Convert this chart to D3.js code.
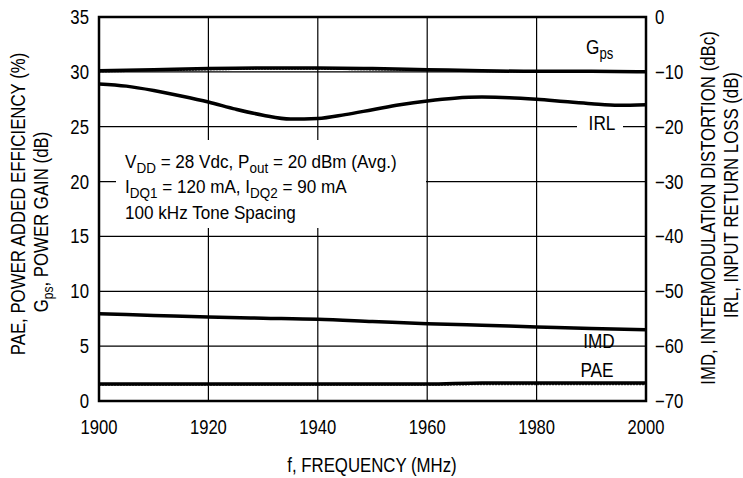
<!DOCTYPE html>
<html>
<head>
<meta charset="utf-8">
<script src="https://cdn.jsdelivr.net/npm/d3@7"></script>
<style>
  body { margin: 0; background: #fff; }
  text { font-family: "Liberation Sans", Arial, sans-serif; fill: #000; }
</style>
</head>
<body>
<script>
const width = 743;
const height = 478;
const margin = { left: 99, right: 97, top: 17, bottom: 77 };

// data
const freq = [1900, 1910, 1920, 1930, 1940, 1950, 1960, 1970, 1980, 1990, 2000];
const gps = [30.1, 30.2, 30.3, 30.35, 30.35, 30.3, 30.2, 30.1, 30.05, 30.05, 30.0];
const gpsAlt = [30.0, 30.1, 30.2, 30.25, 30.25, 30.2, 30.15, 30.05, 30.0, 30.0, 29.95];
const pae = [1.55, 1.55, 1.55, 1.55, 1.55, 1.55, 1.55, 1.65, 1.65, 1.65, 1.65];
const paeAlt = [1.45, 1.45, 1.45, 1.45, 1.45, 1.45, 1.45, 1.5, 1.5, 1.5, 1.5];
const irlFreq = [1900, 1905, 1910, 1915, 1920, 1925, 1930, 1935, 1940, 1945, 1950, 1955, 1960, 1965, 1970, 1975, 1980, 1985, 1990, 1995, 2000];
const irl = [-12.2, -12.6, -13.4, -14.4, -15.5, -16.8, -17.9, -18.6, -18.5, -17.8, -16.9, -16.0, -15.3, -14.8, -14.6, -14.7, -15.0, -15.4, -15.8, -16.1, -16.0];
const imd = [-54.1, -54.4, -54.7, -54.9, -55.1, -55.5, -55.9, -56.2, -56.5, -56.8, -57.0];

const xTicks = [1900, 1920, 1940, 1960, 1980, 2000];
const leftTicks = [0, 5, 10, 15, 20, 25, 30, 35];
const rightTicks = [0, -10, -20, -30, -40, -50, -60, -70];

const svg = d3.select("body")
  .append("svg")
  .attr("width", width)
  .attr("height", height);

const x = d3.scaleLinear()
  .domain([1900, 2000])
  .range([margin.left, width - margin.right]);

const yLeft = d3.scaleLinear()
  .domain([0, 35])
  .range([height - margin.bottom, margin.top]);

const yRight = d3.scaleLinear()
  .domain([-70, 0])
  .range([height - margin.bottom, margin.top]);

// narrow text: regular face squeezed horizontally
function label(parent, tx, ty, size, sx, anchor, rot) {
  return parent.append("text")
    .attr("transform", "translate(" + tx + "," + ty + ")" + (rot ? " rotate(-90)" : "") + " scale(" + sx + ",1)")
    .attr("text-anchor", anchor || "start")
    .style("font-size", size + "px");
}

// gridlines
svg.append("g")
  .selectAll("line")
  .data(leftTicks)
  .enter()
  .append("line")
  .attr("x1", margin.left)
  .attr("x2", width - margin.right)
  .attr("y1", d => yLeft(d))
  .attr("y2", d => yLeft(d))
  .attr("stroke", "#000")
  .attr("stroke-width", 1.2);

svg.append("g")
  .selectAll("line")
  .data(xTicks)
  .enter()
  .append("line")
  .attr("x1", d => x(d))
  .attr("x2", d => x(d))
  .attr("y1", margin.top)
  .attr("y2", height - margin.bottom)
  .attr("stroke", "#000")
  .attr("stroke-width", 1.2);

// white patches behind annotation and IRL label
svg.append("rect")
  .attr("x", 116).attr("y", 140)
  .attr("width", 310).attr("height", 88)
  .attr("fill", "#fff");
svg.append("rect")
  .attr("x", 577).attr("y", 115)
  .attr("width", 46).attr("height", 20)
  .attr("fill", "#fff");

// curves
const lineL = d3.line().x((d, i) => x(freq[i])).y(d => yLeft(d)).curve(d3.curveMonotoneX);
const lineR = d3.line().x((d, i) => x(freq[i])).y(d => yRight(d)).curve(d3.curveMonotoneX);
const lineIrl = d3.line().x((d, i) => x(irlFreq[i])).y(d => yRight(d)).curve(d3.curveMonotoneX);

[gpsAlt, paeAlt].forEach(s => {
  svg.append("path")
    .attr("d", lineL(s))
    .attr("fill", "none")
    .attr("stroke", "#444")
    .attr("stroke-width", 1.5)
    .attr("stroke-dasharray", "2,1");
});

[gps, pae].forEach(s => {
  svg.append("path")
    .attr("d", lineL(s))
    .attr("fill", "none")
    .attr("stroke", "#000")
    .attr("stroke-width", 3.5);
});

svg.append("path")
  .attr("d", lineIrl(irl))
  .attr("fill", "none")
  .attr("stroke", "#000")
  .attr("stroke-width", 3.5);

svg.append("path")
  .attr("d", lineR(imd))
  .attr("fill", "none")
  .attr("stroke", "#000")
  .attr("stroke-width", 3.5);

// frame
svg.append("rect")
  .attr("x", margin.left)
  .attr("y", margin.top)
  .attr("width", width - margin.left - margin.right)
  .attr("height", height - margin.top - margin.bottom)
  .attr("fill", "none")
  .attr("stroke", "#000")
  .attr("stroke-width", 2.5);

// tick labels
leftTicks.forEach(d => {
  label(svg, margin.left - 10, yLeft(d) + 7, 19.5, 0.86, "end").text(d);
});
rightTicks.forEach(d => {
  label(svg, width - margin.right + 9, yRight(d) + 7, 19.5, 0.86, "start")
    .text(d === 0 ? "0" : "\u2212" + Math.abs(d));
});
xTicks.forEach(d => {
  label(svg, x(d), 434, 20, 0.83, "middle").text(d);
});

// axis titles
label(svg, 372, 472, 21, 0.8, "middle").text("f, FREQUENCY (MHz)");

label(svg, 25, 204, 21, 0.8, "middle", true).text("PAE, POWER ADDED EFFICIENCY (%)");
const lt2 = label(svg, 48, 222, 21, 0.8, "middle", true);
lt2.append("tspan").text("G");
lt2.append("tspan").attr("dy", 5).style("font-size", "15px").text("ps");
lt2.append("tspan").attr("dy", -5).text(", POWER GAIN (dB)");

label(svg, 715, 208, 21, 0.8, "middle", true).text("IMD, INTERMODULATION DISTORTION (dBc)");
label(svg, 738, 195, 21, 0.8, "middle", true).text("IRL, INPUT RETURN LOSS (dB)");

// curve labels
const gLab = label(svg, 586, 54, 21, 0.82, "start");
gLab.append("tspan").text("G");
gLab.append("tspan").attr("dy", 5).style("font-size", "16px").text("ps");

label(svg, 602, 130, 21, 0.82, "middle").text("IRL");
label(svg, 599, 348, 21, 0.82, "middle").text("IMD");
label(svg, 597, 377, 21, 0.82, "middle").text("PAE");

// annotation
const a1 = label(svg, 125, 168, 19, 0.9, "start");
a1.append("tspan").text("V");
a1.append("tspan").attr("dy", 5).style("font-size", "15px").text("DD");
a1.append("tspan").attr("dy", -5).text(" = 28 Vdc, P");
a1.append("tspan").attr("dy", 5).style("font-size", "15px").text("out");
a1.append("tspan").attr("dy", -5).text(" = 20 dBm (Avg.)");

const a2 = label(svg, 125, 193, 19, 0.9, "start");
a2.append("tspan").text("I");
a2.append("tspan").attr("dy", 5).style("font-size", "15px").text("DQ1");
a2.append("tspan").attr("dy", -5).text(" = 120 mA, I");
a2.append("tspan").attr("dy", 5).style("font-size", "15px").text("DQ2");
a2.append("tspan").attr("dy", -5).text(" = 90 mA");

label(svg, 125, 219, 19, 0.9, "start").text("100 kHz Tone Spacing");
</script>
</body>
</html>
